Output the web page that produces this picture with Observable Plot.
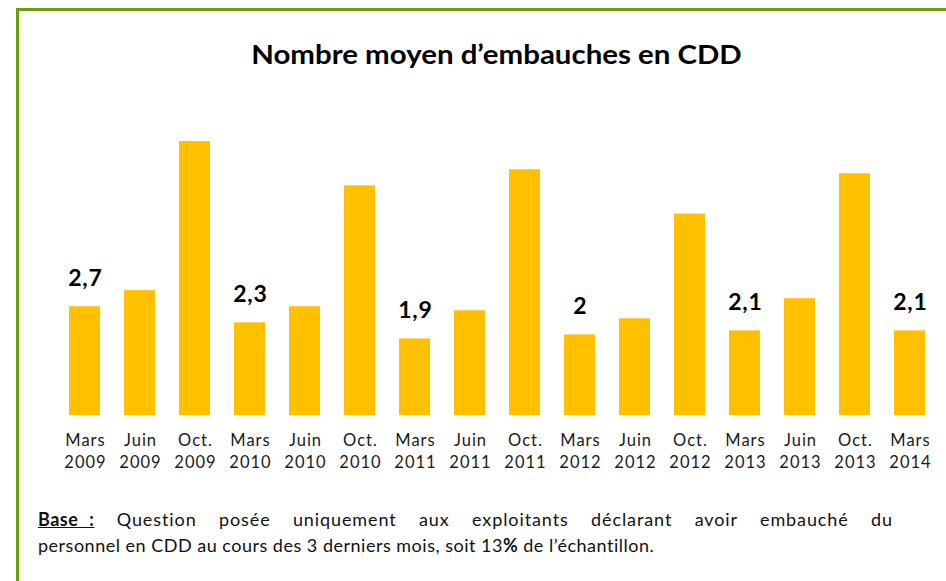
<!DOCTYPE html>
<html>
<head>
<meta charset="utf-8">
<script src="https://cdn.jsdelivr.net/npm/d3@7"></script>
<script src="https://cdn.jsdelivr.net/npm/@observablehq/plot@0.6"></script>
<style>
  html, body { margin: 0; padding: 0; background: #fff; overflow: hidden; }
  body { width: 946px; height: 581px; position: relative; font-family: Lato, sans-serif; }
  #frame { position: absolute; left: 16px; top: 8px; width: 960px; height: 600px; border-left: 3px solid #6aa10b; border-top: 3px solid #6aa10b; }
  #title { position: absolute; left: 0; width: 993px; top: 37px; text-align: center; font-weight: bold; font-size: 27px; color: #000; transform: scaleX(1.09); transform-origin: 496.5px 0; }
  #chart { position: absolute; left: 0; top: 100px; }
  #note { position: absolute; left: 38px; top: 506px; width: 855px; font-size: 18px; line-height: 26px; color: #111; letter-spacing: 0.5px; }
  #note .l1 { text-align: justify; text-align-last: justify; letter-spacing: 0.9px; }
  #note .b { font-weight: bold; text-decoration: underline; display: inline-block; word-spacing: 6px; letter-spacing: 0.5px; }
  g[aria-label="x-axis tick label"] text { letter-spacing: 1px; }
  g[aria-label="text"] text { letter-spacing: 0.7px; }
</style>
</head>
<body>
<div id="frame"></div>
<div id="title">Nombre moyen d’embauches en CDD</div>
<div id="chart"></div>
<div id="note"><div class="l1"><span class="b">Base :</span> Question posée uniquement aux exploitants déclarant avoir embauché du</div><div>personnel en CDD au cours des 3 derniers mois, soit 13<b>%</b> de l’échantillon.</div></div>
<script>
const months = ["Mars","Juin","Oct.","Mars","Juin","Oct.","Mars","Juin","Oct.","Mars","Juin","Oct.","Mars","Juin","Oct.","Mars"];
const years  = ["2009","2009","2009","2010","2010","2010","2011","2011","2011","2012","2012","2012","2013","2013","2013","2014"];
const values = [2.7, 3.1, 6.8, 2.3, 2.7, 5.7, 1.9, 2.6, 6.1, 2.0, 2.4, 5.0, 2.1, 2.9, 6.0, 2.1];
const labelledMonth = "Mars";

const data = months.map((m, i) => ({key: m + "\n" + years[i], month: m, value: values[i]}));
const fmt = v => String(+v.toFixed(1)).replace(".", ",");

const chart = Plot.plot({
  width: 946,
  height: 380,
  marginTop: 33,
  marginBottom: 65,
  marginLeft: 66.7,
  marginRight: 19.3,
  style: {fontFamily: "Lato, sans-serif", background: "transparent", overflow: "visible"},
  x: {domain: data.map(d => d.key), paddingInner: 0.44, paddingOuter: 0, label: null},
  y: {domain: [0, 7], axis: null},
  marks: [
    Plot.barY(data, {x: "key", y: "value", fill: "#ffc000"}),
    Plot.text(data.filter(d => d.month === labelledMonth), {
      x: "key", y: "value", text: d => fmt(d.value),
      dy: -28, dx: 0.35, lineAnchor: "middle", fontSize: 23, fontWeight: "bold", fill: "#000"
    }),
    Plot.axisX({tickSize: 0, tickPadding: 15, fontSize: 16.5, lineHeight: 1.33, dx: 0.5, fill: "#1a1a1a", label: null})
  ]
});
document.getElementById("chart").appendChild(chart);
</script>
</body>
</html>
